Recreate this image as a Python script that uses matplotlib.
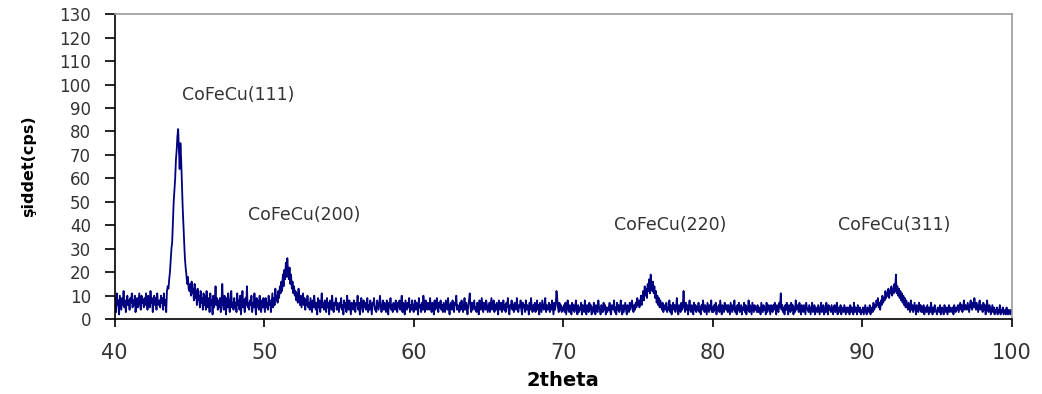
import numpy as np
import matplotlib
matplotlib.use('Agg')
import matplotlib.pyplot as plt

plt.rcParams['font.family'] = ['DejaVu Sans']

# 2theta from 40 to 100, step 0.05 (one row = one degree)
two_theta = np.round(np.arange(40, 100.0001, 0.05), 2)

intensity = [
    5, 9, 3, 11, 6, 8, 2, 10, 7, 4, 9, 6, 12, 5, 8, 3, 7, 10, 6, 8,          # 40
    4, 9, 7, 11, 5, 8, 6, 10, 3, 7, 9, 5, 8, 11, 6, 4, 10, 7, 8, 5,          # 41
    9, 6, 11, 7, 4, 10, 8, 5, 12, 7, 9, 3, 8, 10, 6, 9, 4, 11, 7, 6,         # 42
    8, 5, 10, 7, 9, 4, 11, 6, 8, 3, 12, 14, 13, 17, 20, 25, 30, 33, 42, 50,  # 43
    55, 60, 68, 72, 78, 81, 72, 64, 75, 68, 58, 48, 40, 33, 26, 22, 19, 15, 18, 13,  # 44
    12, 15, 10, 16, 11, 13, 8, 15, 9, 12, 6, 13, 8, 10, 5, 12, 7, 9, 4, 11,  # 45
    6, 10, 4, 12, 7, 5, 9, 3, 11, 6, 8, 2, 10, 5, 7, 14, 6, 9, 4, 8,         # 46
    5, 9, 3, 8, 15, 6, 4, 10, 7, 2, 9, 5, 11, 6, 3, 8, 12, 5, 7, 4,          # 47
    9, 5, 7, 3, 11, 6, 8, 4, 10, 2, 7, 12, 5, 8, 3, 9, 6, 14, 5, 7,          # 48
    4, 8, 6, 10, 3, 7, 5, 11, 6, 2, 9, 5, 8, 4, 10, 6, 3, 8, 5, 9,           # 49
    6, 3, 9, 5, 7, 4, 10, 6, 8, 3, 7, 11, 5, 9, 6, 13, 8, 10, 7, 12,         # 50
    9, 14, 11, 16, 12, 19, 14, 21, 17, 24, 18, 26, 20, 17, 22, 15, 19, 13, 16, 11,  # 51
    14, 10, 12, 8, 11, 7, 13, 9, 6, 10, 5, 8, 11, 6, 9, 4, 8, 6, 10, 5,      # 52
    7, 4, 9, 6, 3, 8, 5, 10, 6, 4, 7, 2, 9, 5, 8, 3, 6, 11, 5, 7,            # 53
    4, 8, 6, 3, 9, 5, 7, 2, 8, 6, 4, 10, 5, 3, 7, 6, 9, 4, 7, 5,             # 54
    3, 7, 5, 9, 4, 6, 2, 8, 5, 7, 3, 10, 6, 4, 8, 5, 2, 7, 6, 4,             # 55
    8, 5, 3, 7, 6, 10, 4, 7, 2, 6, 9, 5, 3, 8, 5, 7, 4, 6, 9, 3,             # 56
    6, 4, 8, 5, 2, 7, 6, 9, 4, 5, 3, 8, 6, 4, 7, 10, 5, 3, 6, 8,             # 57
    4, 7, 5, 3, 8, 6, 2, 7, 5, 9, 4, 6, 3, 7, 5, 4, 8, 6, 3, 7,              # 58
    5, 8, 4, 6, 10, 3, 7, 5, 2, 8, 6, 4, 7, 5, 9, 3, 6, 4, 8, 5,             # 59
    3, 6, 8, 4, 7, 5, 2, 9, 5, 6, 3, 7, 4, 10, 6, 3, 8, 5, 4, 7,             # 60
    6, 4, 9, 5, 3, 7, 6, 2, 8, 4, 6, 9, 5, 3, 7, 5, 8, 4, 6, 3,              # 61
    7, 5, 3, 8, 6, 4, 9, 5, 2, 6, 7, 4, 8, 5, 3, 7, 6, 10, 4, 6,             # 62
    5, 3, 7, 4, 8, 6, 3, 5, 9, 4, 7, 5, 2, 6, 8, 11, 5, 3, 7, 4,             # 63
    6, 8, 4, 5, 3, 7, 6, 2, 8, 5, 4, 9, 6, 3, 7, 5, 4, 8, 6, 3,              # 64
    5, 7, 3, 6, 9, 4, 5, 8, 3, 6, 4, 7, 5, 2, 8, 6, 4, 7, 3, 5,              # 65
    8, 4, 6, 3, 7, 5, 9, 4, 2, 6, 5, 8, 4, 6, 3, 7, 5, 4, 9, 5,              # 66
    3, 6, 5, 8, 4, 2, 7, 5, 6, 3, 8, 4, 6, 5, 2, 7, 4, 9, 5, 3,              # 67
    6, 4, 7, 3, 5, 8, 4, 6, 2, 7, 5, 3, 8, 6, 4, 5, 9, 3, 6, 4,              # 68
    5, 7, 3, 6, 4, 8, 5, 2, 7, 4, 6, 12, 9, 5, 3, 7, 4, 6, 3, 5,             # 69
    4, 6, 3, 7, 2, 5, 8, 4, 3, 6, 5, 2, 7, 4, 6, 3, 5, 8, 4, 2,              # 70
    6, 3, 5, 4, 7, 2, 6, 5, 3, 8, 4, 2, 6, 5, 3, 7, 4, 6, 2, 5,              # 71
    3, 7, 5, 2, 6, 4, 3, 8, 5, 4, 2, 6, 5, 3, 7, 4, 6, 2, 5, 3,              # 72
    5, 4, 7, 3, 2, 6, 5, 4, 8, 3, 5, 2, 7, 4, 6, 3, 5, 8, 4, 2,              # 73
    6, 3, 5, 7, 4, 2, 6, 5, 3, 7, 4, 6, 8, 5, 3, 6, 4, 7, 5, 9,              # 74
    6, 8, 5, 7, 10, 6, 9, 12, 8, 14, 10, 13, 9, 15, 12, 17, 11, 19, 14, 12,  # 75
    16, 11, 14, 9, 12, 7, 10, 6, 9, 5, 8, 6, 4, 7, 3, 6, 5, 4, 7, 3,         # 76
    5, 4, 8, 3, 6, 2, 5, 7, 4, 6, 3, 5, 9, 4, 2, 6, 5, 3, 7, 4,              # 77
    6, 12, 5, 3, 7, 4, 6, 2, 5, 8, 4, 3, 6, 5, 2, 7, 4, 6, 3, 5,             # 78
    4, 7, 3, 5, 2, 6, 4, 8, 5, 3, 6, 4, 2, 7, 5, 3, 6, 4, 8, 3,              # 79
    5, 3, 6, 4, 7, 2, 5, 4, 6, 3, 8, 5, 2, 6, 4, 3, 7, 5, 4, 6,              # 80
    3, 6, 4, 2, 7, 5, 3, 6, 4, 8, 3, 5, 2, 6, 4, 7, 3, 5, 6, 2,              # 81
    5, 4, 7, 3, 6, 2, 5, 4, 8, 3, 6, 4, 2, 7, 5, 3, 6, 4, 5, 3,              # 82
    6, 3, 5, 4, 2, 7, 5, 3, 6, 4, 5, 2, 7, 3, 5, 6, 4, 2, 6, 5,              # 83
    3, 6, 4, 7, 5, 2, 6, 4, 3, 7, 5, 11, 4, 6, 3, 5, 2, 6, 4, 7,             # 84
    4, 2, 6, 5, 3, 7, 4, 6, 2, 5, 3, 8, 4, 6, 5, 3, 7, 4, 2, 6,              # 85
    5, 3, 6, 4, 2, 7, 5, 4, 3, 6, 4, 2, 5, 7, 3, 4, 6, 2, 5, 4,              # 86
    3, 6, 4, 2, 5, 7, 3, 4, 6, 2, 5, 3, 7, 4, 2, 6, 4, 5, 3, 6,              # 87
    4, 2, 5, 6, 3, 4, 7, 2, 5, 3, 4, 6, 2, 5, 4, 3, 6, 4, 2, 5,              # 88
    3, 5, 4, 2, 6, 3, 5, 4, 2, 7, 3, 5, 4, 2, 6, 4, 3, 5, 2, 4,              # 89
    3, 5, 2, 4, 6, 3, 2, 5, 4, 3, 6, 2, 4, 5, 3, 7, 4, 6, 5, 8,              # 90
    6, 9, 5, 7, 4, 8, 6, 10, 7, 9, 8, 12, 9, 11, 10, 13, 9, 12, 11, 14,      # 91
    10, 13, 11, 15, 12, 19, 11, 14, 10, 13, 9, 12, 8, 11, 7, 10, 6, 9, 5, 8, # 92
    6, 4, 7, 5, 3, 8, 4, 6, 3, 5, 7, 4, 2, 6, 5, 3, 7, 4, 6, 3,              # 93
    5, 3, 6, 2, 4, 5, 3, 6, 4, 2, 5, 3, 7, 4, 2, 5, 3, 6, 4, 3,              # 94
    2, 5, 4, 3, 6, 2, 4, 5, 3, 2, 6, 4, 3, 5, 2, 4, 6, 3, 5, 4,              # 95
    3, 5, 2, 6, 4, 3, 5, 4, 6, 3, 5, 7, 4, 6, 3, 5, 8, 4, 6, 5,              # 96
    4, 7, 5, 3, 6, 8, 5, 4, 7, 5, 9, 6, 4, 7, 5, 3, 6, 8, 4, 6,              # 97
    5, 3, 7, 4, 6, 2, 5, 8, 4, 3, 6, 5, 2, 4, 6, 3, 5, 2, 4, 3,              # 98
    5, 2, 4, 3, 6, 2, 4, 3, 5, 2, 3, 4, 2, 5, 3, 2, 4, 3, 2, 4,              # 99
    3,                                                                        # 100
]

peak_labels = ['CoFeCu(111)', 'CoFeCu(200)', 'CoFeCu(220)', 'CoFeCu(311)']
label_x = [44.5, 48.9, 73.4, 88.4]
label_y = [95.5, 44.5, 40, 40]

fig = plt.figure(figsize=(10.42, 3.94), dpi=100)
ax = fig.add_axes([0.110, 0.190, 0.861, 0.774])

ax.plot(two_theta, intensity, color='#000080', linewidth=1.3)

for txt, x, y in zip(peak_labels, label_x, label_y):
    ax.text(x, y, txt, fontsize=12.5, color='#333333', va='center', ha='left')

ax.set_xlim(40, 100)
ax.set_ylim(0, 130)
ax.set_xticks(range(40, 101, 10))
ax.set_yticks(range(0, 131, 10))
ax.tick_params(axis='y', direction='out', length=7, width=1.2, labelsize=12,
               labelcolor='#333333', pad=10)
ax.tick_params(axis='x', direction='out', length=6, width=1.2, labelsize=15,
               labelcolor='#333333', pad=11)

for side in ['left', 'bottom']:
    ax.spines[side].set_color('black')
    ax.spines[side].set_linewidth(1.2)
for side in ['top', 'right']:
    ax.spines[side].set_color('#9a9a9a')
    ax.spines[side].set_linewidth(1.2)

ax.set_xlabel('2theta', fontsize=14, fontweight='bold')
ax.xaxis.set_label_coords(0.5, -0.17)
ax.set_ylabel('şiddet(cps)', fontsize=11.5, fontweight='bold')
ax.yaxis.set_label_coords(-0.087, 0.5)

fig.savefig('out.png', dpi=100)
